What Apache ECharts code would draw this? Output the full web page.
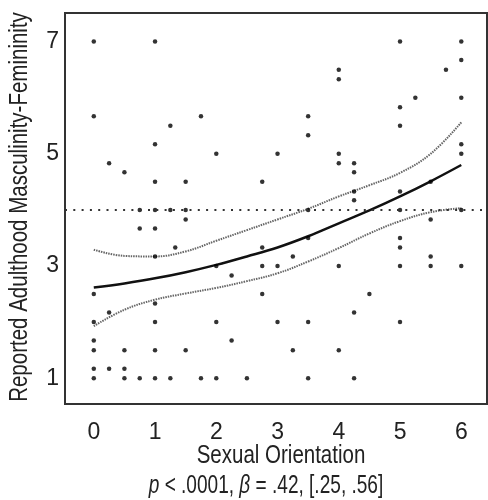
<!DOCTYPE html>
<html>
<head>
<meta charset="utf-8">
<script src="https://cdn.jsdelivr.net/npm/echarts@6/dist/echarts.min.js"></script>
<style>html,body{margin:0;padding:0;background:#fff;}#c{width:488px;height:500px;}</style>
</head>
<body>
<div id="c"></div>
<script>
// Scatter observations: [sexual orientation, masculinity-femininity]
const points = [
  [0,7],[0,5.67],[0,2.5],[0,2],[0,1.67],[0,1.5],[0,1.17],[0,1],
  [0.25,4.83],[0.25,2.17],[0.25,1.17],
  [0.5,4.67],[0.5,1.5],[0.5,1.17],[0.5,1],
  [0.75,4],[0.75,3.67],[0.75,1],
  [1,7],[1,5.17],[1,4.5],[1,4],[1,3.67],[1,3.17],[1,2.33],[1,2],[1,1.5],[1,1],
  [1.25,5.5],[1.25,4],[1.25,1],
  [1.33,3.33],
  [1.5,4.5],[1.5,4],[1.5,3.83],[1.5,1.5],
  [1.75,5.67],[1.75,1],
  [2,5],[2,3],[2,2],[2,1],
  [2.25,2.83],[2.25,1.67],
  [2.5,1],
  [2.75,4.5],[2.75,3.33],[2.75,3],[2.75,2.5],
  [3,5],[3,3],[3,2],
  [3.25,3.17],[3.25,1.5],
  [3.5,5.67],[3.5,5.33],[3.5,4],[3.5,3.5],[3.5,2],[3.5,1],
  [4,6.5],[4,6.33],[4,5],[4,4.83],[4,3],[4,1.5],
  [4.25,4.83],[4.25,4.67],[4.25,4.33],[4.25,4.17],[4.25,2.17],[4.25,1],
  [4.5,2.5],
  [5,7],[5,5.83],[5,5.5],[5,4.33],[5,4],[5,3.5],[5,3.33],[5,3],[5,2],
  [5.25,6],
  [5.5,4.5],[5.5,3.83],[5.5,3.17],[5.5,3],
  [5.75,6.5],
  [6,7],[6,6.67],[6,6],[6,5.17],[6,5],[6,4],[6,3]
];
// Fitted curve and confidence band
const fitLine = [[0,2.615],[0.5,2.69],[1,2.78],[1.5,2.89],[2,3.02],[2.5,3.17],[3,3.33],[3.5,3.53],[4,3.76],[4.5,3.99],[5,4.24],[5.5,4.51],[6,4.8]];
const upperCI = [[0,3.29],[0.5,3.18],[1,3.17],[1.5,3.26],[2,3.45],[2.5,3.64],[3,3.83],[3.5,4.02],[4,4.24],[4.5,4.44],[5,4.66],[5.5,5.0],[6,5.56]];
const lowerCI = [[0,1.93],[0.5,2.22],[1,2.4],[1.5,2.51],[2,2.61],[2.5,2.73],[3,2.87],[3.5,3.08],[4,3.32],[4.5,3.58],[5,3.8],[5.5,3.96],[6,4.03]];
const refValue = 4;
const xTicks = [0,1,2,3,4,5,6];
const yTicks = [1,3,5,7];

const FONT = "'Liberation Sans', Arial, sans-serif";
const NARROW = 0.82;
const chart = echarts.init(document.getElementById('c'), null, {renderer: 'canvas'});
chart.setOption({
  animation: false,
  grid: {left: 65, right: 1, top: 13, bottom: 96, show: true, borderColor: '#333', borderWidth: 2},
  xAxis: {
    type: 'value', min: -0.47, max: 6.42,
    splitLine: {show: false}, axisTick: {show: false},
    axisLine: {show: true, onZero: false, lineStyle: {color: '#333', width: 2}},
    axisLabel: {customValues: xTicks, margin: 17, color: '#222', fontSize: 23, fontFamily: FONT}
  },
  yAxis: {
    type: 'value', min: 0.54, max: 7.51,
    splitLine: {show: false}, axisTick: {show: false},
    axisLine: {show: true, onZero: false, lineStyle: {color: '#333', width: 2}},
    axisLabel: {customValues: yTicks, margin: 6, color: '#222', fontSize: 23, fontFamily: FONT}
  },
  graphic: [
    {type: 'text', x: 20, y: 207, rotation: Math.PI / 2, scaleX: NARROW,
     style: {text: 'Reported Adulthood Masculinity-Femininity', fill: '#222', font: '25px ' + FONT, align: 'center', verticalAlign: 'middle'}},
    {type: 'text', x: 281, y: 456, scaleX: NARROW,
     style: {text: 'Sexual Orientation', fill: '#222', font: '25px ' + FONT, align: 'center', verticalAlign: 'middle'}},
    {type: 'text', x: 266, y: 486, scaleX: NARROW * 0.93,
     style: {text: '{i|p} < .0001, {i|β} = .42, [.25, .56]', fill: '#222', font: '25px ' + FONT, align: 'center', verticalAlign: 'middle',
       rich: {i: {fontStyle: 'italic', fontSize: 25, fontFamily: FONT, fill: '#222'}}}}
  ],
  series: [
    {type: 'line', data: upperCI, smooth: 0.4, symbol: 'none', lineStyle: {color: '#666', width: 2, type: [1.5, 1]}, z: 2},
    {type: 'line', data: lowerCI, smooth: 0.4, symbol: 'none', lineStyle: {color: '#666', width: 2, type: [1.5, 1]}, z: 2},
    {type: 'line', data: fitLine, smooth: 0.4, symbol: 'none', lineStyle: {color: '#111', width: 2.5}, z: 3},
    {type: 'scatter', data: points, symbolSize: 4.5, itemStyle: {color: '#000'}, z: 4,
     markLine: {silent: true, symbol: 'none', label: {show: false},
       lineStyle: {color: '#333', width: 2, type: [2, 6.3]}, data: [{yAxis: refValue}]}}
  ]
});
</script>
</body>
</html>
